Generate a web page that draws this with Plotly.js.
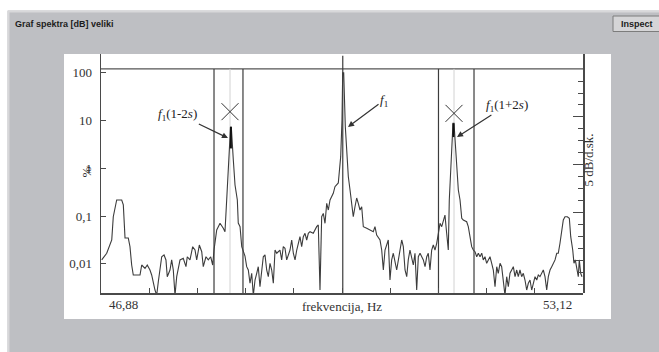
<!DOCTYPE html>
<html>
<head>
<meta charset="utf-8">
<script src="https://cdn.plot.ly/plotly-3.0.1.min.js"></script>
<style>
html,body{margin:0;padding:0;background:#bebfc3;overflow:hidden;}
#chart{width:659px;height:352px;}
</style>
</head>
<body>
<div id="chart"></div>
<script>
// Amplitude spectrum around the 50 Hz supply frequency, 46.88 ... 53.12 Hz
const freqHz = [
  46.889, 46.954, 47.019, 47.039, 47.083, 47.148, 47.169, 47.191, 47.233, 47.255,
  47.277, 47.298, 47.385, 47.407, 47.450, 47.479, 47.514, 47.536, 47.579, 47.601,
  47.622, 47.644, 47.666, 47.696, 47.721, 47.738, 47.773, 47.795, 47.816, 47.838,
  47.860, 47.903, 47.945, 47.980, 47.997, 48.032, 48.067, 48.097, 48.119, 48.153,
  48.184, 48.204, 48.239, 48.269, 48.300, 48.326, 48.343, 48.378, 48.421, 48.463,
  48.485, 48.507, 48.515, 48.541, 48.557, 48.567, 48.585, 48.593, 48.615, 48.645,
  48.657, 48.680, 48.702, 48.744, 48.766, 48.787, 48.809, 48.831, 48.852, 48.874,
  48.896, 48.916, 48.938, 48.981, 49.003, 49.025, 49.046, 49.068, 49.090, 49.111,
  49.133, 49.155, 49.197, 49.219, 49.240, 49.262, 49.284, 49.327, 49.349, 49.370,
  49.392, 49.414, 49.456, 49.478, 49.499, 49.521, 49.543, 49.564, 49.586, 49.628,
  49.672, 49.693, 49.715, 49.737, 49.758, 49.780, 49.802, 49.823, 49.845, 49.887,
  49.909, 49.952, 49.983, 50.000, 50.009, 50.022, 50.043, 50.061, 50.082, 50.104,
  50.126, 50.146, 50.168, 50.190, 50.211, 50.233, 50.255, 50.276, 50.320, 50.362,
  50.405, 50.427, 50.449, 50.492, 50.514, 50.535, 50.557, 50.599, 50.621, 50.643,
  50.664, 50.708, 50.751, 50.773, 50.794, 50.816, 50.838, 50.858, 50.880, 50.902,
  50.923, 50.945, 50.967, 50.988, 51.010, 51.053, 51.075, 51.097, 51.117, 51.139,
  51.161, 51.182, 51.204, 51.226, 51.247, 51.269, 51.291, 51.311, 51.333, 51.355,
  51.376, 51.389, 51.411, 51.437, 51.450, 51.476, 51.506, 51.528, 51.550, 51.570,
  51.614, 51.635, 51.657, 51.679, 51.700, 51.722, 51.744, 51.765, 51.787, 51.809,
  51.829, 51.851, 51.873, 51.894, 51.916, 51.938, 51.959, 51.981, 52.003, 52.023,
  52.046, 52.067, 52.088, 52.110, 52.132, 52.153, 52.175, 52.197, 52.218, 52.240,
  52.262, 52.282, 52.304, 52.326, 52.347, 52.369, 52.391, 52.412, 52.434, 52.456,
  52.477, 52.499, 52.521, 52.541, 52.563, 52.585, 52.606, 52.628, 52.650, 52.671,
  52.693, 52.715, 52.736, 52.758, 52.780, 52.800, 52.822, 52.844, 52.865, 52.887,
  52.917, 52.943, 52.961, 52.987, 53.003, 53.020, 53.038, 53.059, 53.072, 53.090,
  53.107
];

const amplitudePct = [
  0.0121, 0.0167, 0.0316, 0.0971, 0.217, 0.217, 0.171, 0.0348, 0.0348, 0.0229,
  0.00948, 0.00586, 0.00586, 0.00948, 0.00809, 0.00948, 0.00745, 0.00586, 0.00284, 0.0022,
  0.00424, 0.00745, 0.0141, 0.0154, 0.0121, 0.0054, 0.00745, 0.0121, 0.00745, 0.0022,
  0.0054, 0.0121, 0.0131, 0.00874, 0.0141, 0.0121, 0.0229, 0.0195, 0.0121, 0.0248,
  0.0180, 0.00874, 0.0141, 0.0121, 0.0141, 0.00948, 0.0195, 0.0512, 0.0707, 0.0556,
  0.0472, 0.217, 0.412, 1.75, 7.31, 7.31, 1.75, 1.49, 0.448, 0.217,
  0.0717, 0.0600, 0.0229, 0.0146, 0.00874, 0.00745, 0.00393, 0.00636, 0.0022, 0.0046,
  0.00636, 0.00874, 0.00333, 0.0141, 0.0154, 0.00745, 0.0054, 0.0103, 0.00745, 0.00393,
  0.0195, 0.0167, 0.0195, 0.0121, 0.0229, 0.0212, 0.0121, 0.0195, 0.0316, 0.0167,
  0.0121, 0.0195, 0.0371, 0.0229, 0.0371, 0.0437, 0.0316, 0.0437, 0.0472, 0.0437,
  0.0600, 0.0651, 0.00284, 0.0971, 0.114, 0.0707, 0.185, 0.134, 0.217, 0.300,
  0.412, 0.493, 1.75, 10.2, 100, 100, 7.4, 1.75, 0.667, 0.352,
  0.185, 0.0971, 0.157, 0.239, 0.185, 0.134, 0.157, 0.0600, 0.0556, 0.0512,
  0.0472, 0.0600, 0.0402, 0.0316, 0.0195, 0.00745, 0.0195, 0.0316, 0.0046, 0.0121,
  0.0167, 0.00745, 0.0195, 0.0316, 0.0229, 0.00745, 0.0054, 0.0121, 0.0195, 0.0141,
  0.00948, 0.0167, 0.00284, 0.0141, 0.0167, 0.0121, 0.00874, 0.0141, 0.0167, 0.00745,
  0.0195, 0.0248, 0.0195, 0.0270, 0.0437, 0.0707, 0.0600, 0.0829, 0.105, 0.0437,
  0.0195, 0.217, 1.49, 8.74, 8.74, 1.49, 0.352, 0.217, 0.0899, 0.0829,
  0.0763, 0.0600, 0.0371, 0.0229, 0.0195, 0.0180, 0.0141, 0.0167, 0.0141, 0.0167,
  0.0121, 0.0141, 0.0103, 0.0121, 0.0141, 0.0103, 0.00745, 0.00333, 0.00874, 0.00636,
  0.0103, 0.00874, 0.00393, 0.0022, 0.0054, 0.00333, 0.00636, 0.00745, 0.00874, 0.0054,
  0.00745, 0.0054, 0.00745, 0.0054, 0.00636, 0.0046, 0.00284, 0.00393, 0.0046, 0.00284,
  0.00393, 0.0054, 0.0046, 0.00586, 0.0054, 0.00636, 0.00745, 0.0054, 0.00284, 0.0054,
  0.00745, 0.00874, 0.0103, 0.0121, 0.0167, 0.0167, 0.0270, 0.0437, 0.0829, 0.0971,
  0.0971, 0.0899, 0.0371, 0.0195, 0.0103, 0.0121, 0.00745, 0.0054, 0.0121, 0.00636,
  0.0054
];

// Search bands around the sidebands f1(1-2s) and f1(1+2s)
const bandEdgeHz = [48.343, 48.718, 51.249, 51.709];
const sidebandHz = [48.55, 51.45];
const sidebandMarkPct = [15.3, 14.1];
const cursorHz = [48.562, 51.443];
const cursorTopPct = [7.3, 8.7];
const cursorLowPct = [2.6, 4.5];
const supplyHz = 50.01;
const supplyLineTopPct = 225;
const refLevelPct = 120;

// Axis ticks
const pctTicks = [0.01, 0.1, 1, 10, 100];
const pctTickText = ['0,01', '0,1', '1', '10', '100'];
const dbMinorTicks = [36.5, 31.5, 26.5, 21.5, 16.5, 11.5, 6.5, 1.5, -3.5, -8.5,
                      -13.5, -18.5, -23.5, -28.5, -33.5, -38.5, -43.5, -48.5];
const dbMajorTicks = [21.5, 1.5, -18.5, -38.5];
const freqEndLabels = ['46,88', '53,12'];
const freqRange = [46.88, 53.12];

// Peak call-outs
const calloutText = ['<i>f</i><sub>1</sub>(1-2<i>s</i>)', '<i>f</i><sub>1</sub>', '<i>f</i><sub>1</sub>(1+2<i>s</i>)'];
const calloutHz = [48.524, 50.078, 51.489];
const calloutPct = [4.3, 7.3, 4.5];

// ---- layout helpers: window pixels -> paper fractions of the plot area
const L = 101, R = 583, T = 54, B = 293;
const px = x => (x - L) / (R - L);
const py = y => (B - y) / (B - T);
const yLogRange = [-2.609, 2.391];
const dbRange = [20 * yLogRange[0], 20 * yLogRange[1]];

const ink = '#3c3c3c';
const serif = 'Liberation Serif';

const traces = [
  {
    x: freqHz, y: amplitudePct, type: 'scatter', mode: 'lines',
    line: { color: ink, width: 1.1 }, hoverinfo: 'x+y'
  },
  {
    x: sidebandHz, y: sidebandMarkPct, type: 'scatter', mode: 'markers',
    marker: { symbol: 'x-thin-open', size: 17, color: '#333', line: { color: '#333', width: 1 } },
    hoverinfo: 'skip'
  },
  // carriers for the dB scale on the right frame edge (own subplots sharing the same box)
  { x: [freqRange[0]], y: [dbRange[0]], xaxis: 'x2', yaxis: 'y2', type: 'scatter', mode: 'markers',
    marker: { opacity: 0, size: 1 }, hoverinfo: 'skip' },
  { x: [freqRange[0]], y: [dbRange[0]], xaxis: 'x3', yaxis: 'y3', type: 'scatter', mode: 'markers',
    marker: { opacity: 0, size: 1 }, hoverinfo: 'skip' }
];

cursorHz.forEach((f, i) => {
  traces.push({
    x: [f, f], y: [cursorLowPct[i], cursorTopPct[i]], type: 'scatter', mode: 'lines',
    line: { color: '#111', width: 2 }, hoverinfo: 'skip'
  });
});

const shapes = [];
// window chrome
shapes.push({ type: 'rect', xref: 'paper', yref: 'paper', x0: px(0), x1: px(659), y0: py(0), y1: py(10.5),
  fillcolor: '#ffffff', line: { width: 0 }, layer: 'below' });
shapes.push({ type: 'rect', xref: 'paper', yref: 'paper', x0: px(0), x1: px(7.5), y0: py(0), y1: py(352),
  fillcolor: '#ffffff', line: { width: 0 }, layer: 'below' });
shapes.push({ type: 'line', xref: 'paper', yref: 'paper', x0: px(8), x1: px(659), y0: py(11.5), y1: py(11.5),
  line: { color: '#d8d8da', width: 2 }, layer: 'below' });
shapes.push({ type: 'line', xref: 'paper', yref: 'paper', x0: px(8.5), x1: px(8.5), y0: py(11), y1: py(352),
  line: { color: '#d8d8da', width: 2 }, layer: 'below' });
// white chart panel
shapes.push({ type: 'rect', xref: 'paper', yref: 'paper', x0: px(64), x1: px(611), y0: py(54), y1: py(319),
  fillcolor: '#ffffff', line: { width: 0 }, layer: 'below' });
// Inspect button
shapes.push({ type: 'rect', xref: 'paper', yref: 'paper', x0: px(613), x1: px(664), y0: py(16), y1: py(31.5),
  fillcolor: '#d5d5d7', line: { color: '#7c7c7c', width: 1 }, layer: 'below' });

// reference level line
shapes.push({ type: 'line', xref: 'x', yref: 'y', x0: freqRange[0], x1: freqRange[1], y0: refLevelPct, y1: refLevelPct,
  line: { color: '#555', width: 1.2 }, layer: 'below' });
// sideband centre lines (light) and band edges (dark)
sidebandHz.forEach(f => shapes.push({ type: 'line', xref: 'x', yref: 'y', x0: f, x1: f, y0: 0.001, y1: refLevelPct,
  line: { color: '#d2d2d2', width: 1 }, layer: 'below' }));
bandEdgeHz.forEach(f => shapes.push({ type: 'line', xref: 'x', yref: 'y', x0: f, x1: f, y0: 0.001, y1: refLevelPct,
  line: { color: ink, width: 1.2 }, layer: 'below' }));
shapes.push({ type: 'line', xref: 'x', yref: 'y', x0: supplyHz, x1: supplyHz, y0: 0.001, y1: supplyLineTopPct,
  line: { color: ink, width: 1.2 }, layer: 'below' });

const annotations = [];
const calloutOffsets = [[-50, -24], [36, -27], [50, -32]];
calloutText.forEach((t, i) => annotations.push({
  x: calloutHz[i], y: Math.log10(calloutPct[i]), xref: 'x', yref: 'y', text: t,
  showarrow: true, arrowhead: 2, arrowsize: 1, arrowwidth: 1.2, arrowcolor: '#333',
  ax: calloutOffsets[i][0], ay: calloutOffsets[i][1],
  font: { family: serif, size: 13, color: '#222' }
}));
annotations.push({ x: freqRange[0], xref: 'x', y: py(304), yref: 'paper', text: freqEndLabels[0],
  xanchor: 'left', xshift: 6, yanchor: 'middle', showarrow: false, font: { family: serif, size: 13, color: '#333' } });
annotations.push({ x: freqRange[1], xref: 'x', y: py(304), yref: 'paper', text: freqEndLabels[1],
  xanchor: 'right', xshift: -9, yanchor: 'middle', showarrow: false, font: { family: serif, size: 13, color: '#333' } });
annotations.push({ x: px(76), xref: 'paper', y: py(172), yref: 'paper', text: '%', textangle: -90,
  showarrow: false, font: { family: serif, size: 13, color: '#333' } });
annotations.push({ x: px(597), xref: 'paper', y: py(160), yref: 'paper', text: '5 dB/d.sk.', textangle: -90,
  showarrow: false, font: { family: serif, size: 13, color: '#333' } });
annotations.push({ x: px(13), xref: 'paper', y: py(23.5), yref: 'paper', text: '<b>Graf spektra [dB] veliki</b>',
  xanchor: 'left', yanchor: 'middle', showarrow: false, font: { family: 'Liberation Sans', size: 9, color: '#1c1c1c' } });
annotations.push({ x: px(637), xref: 'paper', y: py(24), yref: 'paper', text: '<b>Inspect</b>',
  xanchor: 'center', yanchor: 'middle', showarrow: false, font: { family: 'Liberation Sans', size: 9, color: '#1c1c1c' } });

const axisInk = '#4a4a4a';
const hiddenX = { domain: [0, 1], range: freqRange, visible: false, showgrid: false, zeroline: false };
const layout = {
  width: 659, height: 352,
  margin: { l: L, r: 659 - R, t: T, b: 352 - B, pad: 0 },
  paper_bgcolor: '#bebfc3',
  plot_bgcolor: 'rgba(0,0,0,0)',
  showlegend: false,
  font: { family: serif, size: 13, color: '#333' },
  xaxis: {
    domain: [0, 1], range: freqRange, tick0: freqRange[0], dtick: 0.624,
    ticks: 'inside', ticklen: 5, tickcolor: axisInk, showticklabels: false,
    showline: true, linecolor: axisInk, linewidth: 1.5, showgrid: false, zeroline: false,
    title: { text: 'frekvencija, Hz', font: { family: serif, size: 13, color: '#333' }, standoff: 8 }
  },
  yaxis: {
    domain: [0, 1], type: 'log', range: yLogRange, tickmode: 'array', tickvals: pctTicks, ticktext: pctTickText,
    ticks: 'inside', ticklen: 5, tickcolor: axisInk, ticklabelstandoff: 5,
    tickfont: { family: serif, size: 13, color: '#333' },
    showline: true, linecolor: axisInk, linewidth: 1.5, showgrid: false, zeroline: false
  },
  xaxis2: Object.assign({ anchor: 'y2' }, hiddenX),
  xaxis3: Object.assign({ anchor: 'y3' }, hiddenX),
  yaxis2: {
    domain: [0, 1], side: 'right', anchor: 'x2', range: dbRange, autorange: false,
    tickmode: 'array', tickvals: dbMinorTicks,
    ticks: 'inside', ticklen: 5, tickwidth: 1, tickcolor: axisInk, showticklabels: false,
    showline: true, linecolor: axisInk, linewidth: 1.5, showgrid: false, zeroline: false
  },
  yaxis3: {
    domain: [0, 1], side: 'right', anchor: 'x3', range: dbRange, autorange: false,
    tickmode: 'array', tickvals: dbMajorTicks,
    ticks: 'inside', ticklen: 10, tickwidth: 1, tickcolor: axisInk, showticklabels: false,
    showline: false, showgrid: false, zeroline: false
  },
  shapes: shapes,
  annotations: annotations
};

Plotly.newPlot('chart', traces, layout, { displayModeBar: false, staticPlot: true });
</script>
</body>
</html>
